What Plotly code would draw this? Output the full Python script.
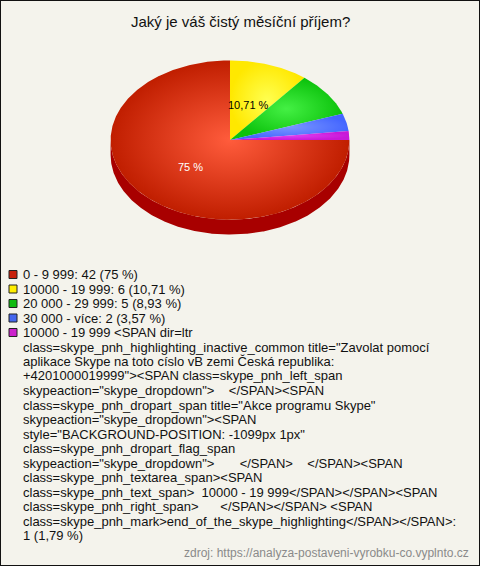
import re
import numpy as np
import plotly.graph_objects as go

# ---------------- data ----------------
title = "Jaký je váš čistý měsíční příjem?"
source = "zdroj: https://analyza-postaveni-vyrobku-co.vyplnto.cz"
categories = [
    "0 - 9 999",
    "10000 - 19 999",
    "20 000 - 29 999",
    "30 000 - více",
    "10000 - 19 999 <SPAN dir=ltr\n"
    "class=skype_pnh_highlighting_inactive_common title=\"Zavolat pomocí\n"
    "aplikace Skype na toto císlo vB zemi Česká republika:\n"
    "+4201000019999\"><SPAN class=skype_pnh_left_span\n"
    "skypeaction=\"skype_dropdown\">    </SPAN><SPAN\n"
    "class=skype_pnh_dropart_span title=\"Akce programu Skype\"\n"
    "skypeaction=\"skype_dropdown\"><SPAN\n"
    "style=\"BACKGROUND-POSITION: -1099px 1px\"\n"
    "class=skype_pnh_dropart_flag_span\n"
    "skypeaction=\"skype_dropdown\">       </SPAN>    </SPAN><SPAN\n"
    "class=skype_pnh_textarea_span><SPAN\n"
    "class=skype_pnh_text_span>  10000 - 19 999</SPAN></SPAN><SPAN\n"
    "class=skype_pnh_right_span>      </SPAN></SPAN> <SPAN\n"
    "class=skype_pnh_mark>end_of_the_skype_highlighting</SPAN></SPAN>",
]
counts = [42, 6, 5, 2, 1]

# ---------------- style ----------------
top_colors = [("#ff5c3c", "#c01e00"), ("#ffff50", "#ffe800"), ("#44f044", "#0cc20c"),
              ("#7a96ff", "#4466ff"), ("#e040f0", "#c818d8")]
side_colors = ["#a80000", "#c8b400", "#0a900a", "#2a44c0", "#900098"]
legend_colors = ["#c8200a", "#ffee00", "#11bb11", "#4466ee", "#cc22cc"]
count_on_new_line = [False, False, False, False, True]
label_colors = ["white", "black", "black", "black", "black"]
FONT = "Arial, Liberation Sans, sans-serif"
W, H = 480, 566
depth = 15 / 80  # side height in units of the vertical radius

total = sum(counts)
pcts = [c / total * 100 for c in counts]


def fmt_pct(p):
    s = f"{p:.2f}".rstrip("0").rstrip(".")
    return s.replace(".", ",")


def esc(s):
    s = s.replace("&", "&amp;").replace("<", "&lt;").replace(">", "&gt;")
    s = re.sub(r" {2,}", lambda m: "\u00a0" * len(m.group()), s)
    return s


fig = go.Figure()

# slice angles: start at 3 o'clock, clockwise
bounds = []
start = 0.0
for p in pcts:
    end = start - 360 * p / 100
    bounds.append((start, end))
    start = end

# front sides (lower half of the ellipse)
for i, (a0, a1) in enumerate(bounds):
    for k in (-1, 0, 1):
        lo = max(a1, -180 + 360 * k)
        hi = min(a0, 0 + 360 * k)
        if hi - lo <= 0:
            continue
        th = np.radians(np.linspace(hi, lo, max(3, int((hi - lo) * 2))))
        xs = np.concatenate([np.cos(th), np.cos(th[::-1])])
        ys = np.concatenate([np.sin(th), np.sin(th[::-1]) - depth])
        fig.add_trace(go.Scatter(x=xs, y=ys, fill="toself", mode="lines",
                                 line=dict(width=0, color=side_colors[i]),
                                 fillcolor=side_colors[i], hoverinfo="skip",
                                 showlegend=False))

# top faces
for i, (a0, a1) in enumerate(bounds):
    th = np.radians(np.linspace(a0, a1, max(3, int((a0 - a1) * 2))))
    xs = np.concatenate([[0], np.cos(th), [0]])
    ys = np.concatenate([[0], np.sin(th), [0]])
    c_in, c_out = top_colors[i]
    fig.add_trace(go.Scatter(x=xs, y=ys, fill="toself", mode="lines",
                             line=dict(width=0, color=c_out),
                             fillgradient=dict(type="radial",
                                               colorscale=[[0, c_in], [1, c_out]]),
                             name=categories[i].split("\n")[0],
                             hoverinfo="name", showlegend=False))

# in-slice labels
annotations = []
for i, (a0, a1) in enumerate(bounds):
    if pcts[i] < 10:
        continue
    mid = np.radians((a0 + a1) / 2)
    annotations.append(dict(x=0.47 * np.cos(mid), y=0.47 * np.sin(mid),
                            xref="x", yref="y", text=fmt_pct(pcts[i]) + " %",
                            showarrow=False,
                            font=dict(family=FONT, size=11, color=label_colors[i])))

# title & source
annotations.append(dict(x=0.5, y=1 - 21 / H, xref="paper", yref="paper",
                        text=title, showarrow=False, xanchor="center", yanchor="middle",
                        font=dict(family=FONT, size=15, color="#111")))
annotations.append(dict(x=471 / W, y=1 - 553 / H, xref="paper", yref="paper",
                        text=source, showarrow=False, xanchor="right", yanchor="middle",
                        font=dict(family=FONT, size=12, color="#8a8a8a")))

# legend (drawn line by line)
shapes = []
y0, step = 274.5, 14.5
line_idx = 0
for i, cat in enumerate(categories):
    sep = ":\n" if count_on_new_line[i] else ": "
    entry = f"{cat}{sep}{counts[i]} ({fmt_pct(pcts[i])} %)"
    yc = y0 + step * line_idx
    shapes.append(dict(type="rect", xref="paper", yref="paper",
                       x0=9 / W, x1=17 / W, y0=1 - (yc - 4) / H, y1=1 - (yc + 4) / H,
                       fillcolor=legend_colors[i], line=dict(color="#222", width=1)))
    for line in entry.split("\n"):
        yc = y0 + step * line_idx
        annotations.append(dict(x=21 / W, y=1 - yc / H, xref="paper", yref="paper",
                                text=esc(line), showarrow=False,
                                xanchor="left", yanchor="middle",
                                font=dict(family=FONT, size=13, color="#111")))
        line_idx += 1

# outer frame
shapes.append(dict(type="rect", xref="paper", yref="paper", x0=0, x1=1, y0=0, y1=1,
                   line=dict(color="#111", width=2), fillcolor="rgba(0,0,0,0)"))

fig.update_layout(
    width=W, height=H,
    margin=dict(l=0, r=0, t=0, b=0),
    paper_bgcolor="#f4f3ec", plot_bgcolor="rgba(0,0,0,0)",
    showlegend=False,
    xaxis=dict(domain=[110 / W, 350 / W], range=[-1.005, 1.005], visible=False, fixedrange=True),
    yaxis=dict(domain=[1 - 235 / H, 1 - 60 / H], range=[-1 - depth - 0.005, 1.005],
               visible=False, fixedrange=True),
    annotations=annotations,
    shapes=shapes,
)

fig.write_html("out.html", config={"displayModeBar": False},
               post_script="document.body.style.margin='0';document.body.style.overflow='hidden';")
